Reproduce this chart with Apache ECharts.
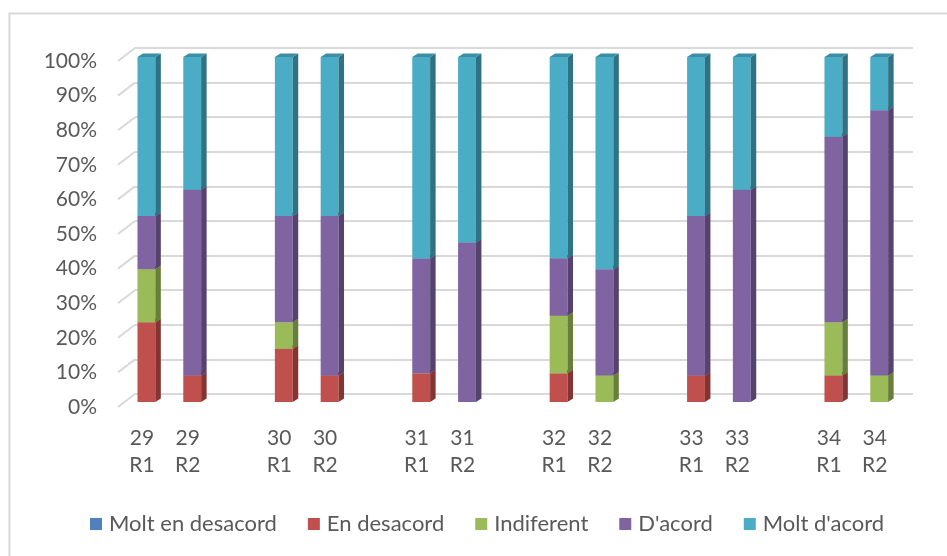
<!DOCTYPE html>
<html>
<head>
<meta charset="utf-8">
<script src="https://cdn.jsdelivr.net/npm/echarts@6/dist/echarts.min.js"></script>
<style>
  html, body { margin: 0; padding: 0; background: #ffffff; }
  #chart { width: 947px; height: 556px; }
</style>
</head>
<body>
<div id="chart"></div>
<script>
// Question / round labels (empty slots separate the question groups)
const categories = ['29\nR1', '29\nR2', '', '30\nR1', '30\nR2', '', '31\nR1', '31\nR2', '',
                    '32\nR1', '32\nR2', '', '33\nR1', '33\nR2', '', '34\nR1', '34\nR2'];

// Share of answers (%) per category, bottom to top of each stack
const moltEnDesacord = [0, 0, null, 0, 0, null, 0, 0, null, 0, 0, null, 0, 0, null, 0, 0];
const enDesacord     = [23.1, 7.7, null, 15.4, 7.7, null, 8.3, 0, null, 8.3, 0, null, 7.7, 0, null, 7.7, 0];
const indiferent     = [15.4, 0, null, 7.7, 0, null, 0, 0, null, 16.7, 7.7, null, 0, 0, null, 15.4, 7.7];
const dAcord         = [15.4, 53.8, null, 30.8, 46.2, null, 33.3, 46.2, null, 16.7, 30.8, null, 46.2, 61.5, null, 53.8, 76.9];
const moltDAcord     = [46.1, 38.5, null, 46.1, 46.1, null, 58.4, 53.8, null, 58.3, 61.5, null, 46.1, 38.5, null, 23.1, 15.4];

const yTicks = [0, 10, 20, 30, 40, 50, 60, 70, 80, 90, 100];

const seriesDefs = [
  { name: 'Molt en desacord', values: moltEnDesacord, front: '#4f81bd', side: '#34567e', top: '#416b9c' },
  { name: 'En desacord',      values: enDesacord,     front: '#c0504d', side: '#843533', top: '#a14341' },
  { name: 'Indiferent',       values: indiferent,     front: '#9bbb59', side: '#687e3b', top: '#83a04a' },
  { name: "D'acord",          values: dAcord,         front: '#8064a2', side: '#55436d', top: '#6a5488' },
  { name: "Molt d'acord",     values: moltDAcord,     front: '#4bacc6', side: '#2f7283', top: '#3b8ea5' }
];

const FONT = 'Lato';
const TXT = '#595959';
const GRIDC = '#d9d9d9';
const DX = 5.5, DY = 3.5;   // depth of the 3D bar faces

// cumulative stacking of the series
const base = categories.map(() => 0);
const customSeries = seriesDefs.map((s) => {
  const data = [];
  s.values.forEach((v, i) => {
    if (v === null) return;
    data.push([i, base[i], base[i] + v]);
    base[i] += v;
  });
  return {
    name: s.name,
    type: 'custom',
    xAxisIndex: 1,
    yAxisIndex: 1,
    itemStyle: { color: s.front },
    encode: { x: 0, y: [1, 2] },
    data: data,
    renderItem: function (params, api) {
      const ci = api.value(0), lo = api.value(1), hi = api.value(2);
      if (!(hi > lo)) return null;
      const pLo = api.coord([ci, lo]);
      const pHi = api.coord([ci, hi]);
      const w = api.size([1, 0])[0] * 0.39;
      const x0 = pLo[0] - w / 2, x1 = pLo[0] + w / 2;
      const yb = pLo[1], yt = pHi[1];
      return {
        type: 'group',
        children: [
          { type: 'rect', shape: { x: x0, y: yt, width: w, height: yb - yt }, style: { fill: s.front } },
          { type: 'polygon', shape: { points: [[x1, yb], [x1 + DX, yb - DY], [x1 + DX, yt - DY], [x1, yt]] }, style: { fill: s.side } },
          { type: 'polygon', shape: { points: [[x0, yt], [x1, yt], [x1 + DX, yt - DY], [x0 + DX, yt - DY]] }, style: { fill: s.top } }
        ]
      };
    }
  };
});

// short slanted lines joining the value labels to the back wall gridlines
const stubSeries = {
  type: 'custom',
  xAxisIndex: 2,
  yAxisIndex: 2,
  silent: true,
  data: yTicks.map(v => [0, v]),
  encode: { x: 0, y: 1 },
  renderItem: function (params, api) {
    const p = api.coord([0, api.value(1)]);
    const x = params.coordSys.x - 1;
    return {
      type: 'line',
      shape: { x1: x, y1: p[1], x2: x + 17, y2: p[1] - 13 },
      style: { stroke: GRIDC, lineWidth: 2 }
    };
  }
};

const chart = echarts.init(document.getElementById('chart'), null, { renderer: 'canvas' });

chart.setOption({
  backgroundColor: '#ffffff',
  animation: false,
  textStyle: { fontFamily: FONT },
  graphic: [{
    type: 'rect', left: 7, top: 11, silent: true,
    shape: { width: 1000, height: 600 },
    style: { fill: 'none', stroke: GRIDC, lineWidth: 2 }
  }],
  grid: [
    { left: 135, top: 48, width: 778, height: 346 },   // back wall
    { left: 123.5, top: 57, width: 778.6, height: 345 }, // bars
    { left: 119, top: 61, width: 778.6, height: 346 }    // front labels
  ],
  xAxis: [
    { gridIndex: 0, type: 'category', data: categories, show: false },
    { gridIndex: 1, type: 'category', data: categories, show: false },
    {
      gridIndex: 2, type: 'category', data: categories,
      axisLine: { show: false }, axisTick: { show: false },
      axisLabel: { interval: 0, color: TXT, fontFamily: FONT, fontSize: 21, lineHeight: 27, margin: 18 }
    }
  ],
  yAxis: [
    {
      gridIndex: 0, type: 'value', min: 0, max: 100, interval: 10,
      axisLabel: { show: false }, axisLine: { show: false }, axisTick: { show: false },
      splitLine: { show: true, lineStyle: { color: GRIDC, width: 2 } }
    },
    { gridIndex: 1, type: 'value', min: 0, max: 100, interval: 10, show: false },
    {
      gridIndex: 2, type: 'value', min: 0, max: 100, interval: 10,
      axisLine: { show: false }, axisTick: { show: false }, splitLine: { show: false },
      axisLabel: { formatter: '{value}%', color: TXT, fontFamily: FONT, fontSize: 21, margin: 22 }
    }
  ],
  legend: {
    data: seriesDefs.map(s => ({ name: s.name, icon: 'rect' })),
    left: 85, top: 508,
    itemWidth: 12, itemHeight: 12, itemGap: 31,
    textStyle: { color: TXT, fontFamily: FONT, fontSize: 22, padding: [0, 0, 0, 2] }
  },
  series: customSeries.concat([stubSeries])
});
</script>
</body>
</html>
